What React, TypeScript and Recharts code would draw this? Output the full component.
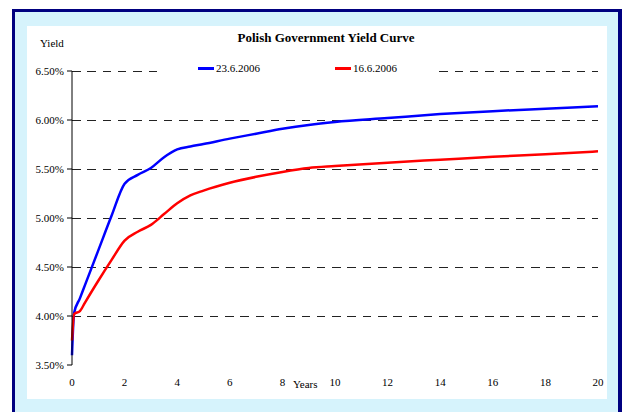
import React from "react";
import {
  LineChart,
  Line,
  XAxis,
  YAxis,
  ReferenceLine,
  Legend,
} from "recharts";

const maturities = [0, 0.08, 0.3, 0.5, 1, 1.5, 2, 2.5, 3, 3.5, 4, 4.5, 5, 6, 7, 8, 9, 10, 12, 14, 16, 18, 20];
const yield2306 = [3.6, 4.03, 4.18, 4.32, 4.67, 5.02, 5.35, 5.44, 5.51, 5.62, 5.7, 5.73, 5.755, 5.81, 5.86, 5.91, 5.95, 5.98, 6.02, 6.06, 6.09, 6.115, 6.14];
const yield1606 = [3.75, 4.02, 4.05, 4.14, 4.36, 4.57, 4.77, 4.86, 4.93, 5.04, 5.15, 5.23, 5.28, 5.36, 5.42, 5.47, 5.51, 5.53, 5.565, 5.595, 5.625, 5.65, 5.68];
const yearTicks = [0, 2, 4, 6, 8, 10, 12, 14, 16, 18, 20];
const yieldTicks = [3.5, 4, 4.5, 5, 5.5, 6, 6.5];
const gridValues = [4, 4.5, 5, 5.5, 6, 6.5];

const data = maturities.map((m, i) => ({
  years: m,
  d2306: yield2306[i],
  d1606: yield1606[i],
}));

const serif = "Liberation Serif, serif";

const legendItems = [
  { label: "23.6.2006", color: "#0000ff", width: 137 },
  { label: "16.6.2006", color: "#ff0000", width: 100 },
];

function LegendBox() {
  return (
    <div
      style={{
        display: "flex",
        background: "#fff",
        width: 277,
        height: 20,
        alignItems: "center",
        paddingLeft: 38,
        boxSizing: "border-box",
        fontFamily: serif,
        fontSize: 11,
        color: "#000",
      }}
    >
      {legendItems.map((it) => (
        <div key={it.label} style={{ display: "flex", alignItems: "center", width: it.width }}>
          <span style={{ display: "inline-block", width: 16, height: 3, background: it.color, marginRight: 2 }} />
          <span>{it.label}</span>
        </div>
      ))}
    </div>
  );
}

export default function App() {
  return (
    <div style={{ position: "absolute", left: 0, top: 0, width: 626, height: 412, background: "#fff", overflow: "hidden", fontFamily: serif }}>
      <div
        style={{
          position: "absolute",
          left: 12,
          top: 9,
          width: 610,
          height: 420,
          boxSizing: "border-box",
          borderLeft: "3px solid #000080",
          borderTop: "3px solid #000080",
          borderRight: "4px solid #000080",
          background: "#d6f3fc",
        }}
      />
      <div style={{ position: "absolute", left: 27, top: 26, width: 580, height: 373, background: "#fff" }}>
        <div
          style={{
            position: "absolute",
            left: 0,
            width: 598,
            top: 4,
            textAlign: "center",
            fontFamily: serif,
            fontWeight: "bold",
            fontSize: 13,
            color: "#000",
          }}
        >
          Polish Government Yield Curve
        </div>
        <div style={{ position: "absolute", left: 13, top: 11, fontFamily: serif, fontSize: 11, color: "#000" }}>
          Yield
        </div>
        <LineChart width={580} height={373} data={data} margin={{ top: 45, right: 9, left: 0, bottom: 0 }}>
          {gridValues.map((v) => (
            <ReferenceLine
              key={v}
              y={v}
              stroke="#222"
              strokeDasharray="8.5 6.8"
              strokeWidth={1}
              shapeRendering="crispEdges"
            />
          ))}
          <XAxis
            dataKey="years"
            type="number"
            domain={[0, 20]}
            ticks={yearTicks}
            height={34}
            axisLine={false}
            tickLine={false}
            tickMargin={7}
            tick={{ fontFamily: serif, fontSize: 11, fill: "#000" }}
          />
          <YAxis
            type="number"
            domain={[3.5, 6.5]}
            ticks={yieldTicks}
            width={45}
            stroke="#000"
            tickSize={5}
            tickMargin={3}
            tickFormatter={(v: number) => `${v.toFixed(2)}%`}
            tick={{ fontFamily: serif, fontSize: 11, fill: "#000" }}
          />
          <Legend
            layout="horizontal"
            verticalAlign="middle"
            align="center"
            content={() => <LegendBox />}
            wrapperStyle={{ position: "absolute", left: 133, top: 32, width: 277, height: 20 }}
          />
          <Line
            type="monotone"
            dataKey="d2306"
            name="23.6.2006"
            stroke="#0000ff"
            strokeWidth={2.5}
            dot={false}
            isAnimationActive={false}
          />
          <Line
            type="monotone"
            dataKey="d1606"
            name="16.6.2006"
            stroke="#ff0000"
            strokeWidth={2.5}
            dot={false}
            isAnimationActive={false}
          />
        </LineChart>
        <div style={{ position: "absolute", left: 266, top: 352, fontFamily: serif, fontSize: 11, color: "#000" }}>
          Years
        </div>
      </div>
    </div>
  );
}
